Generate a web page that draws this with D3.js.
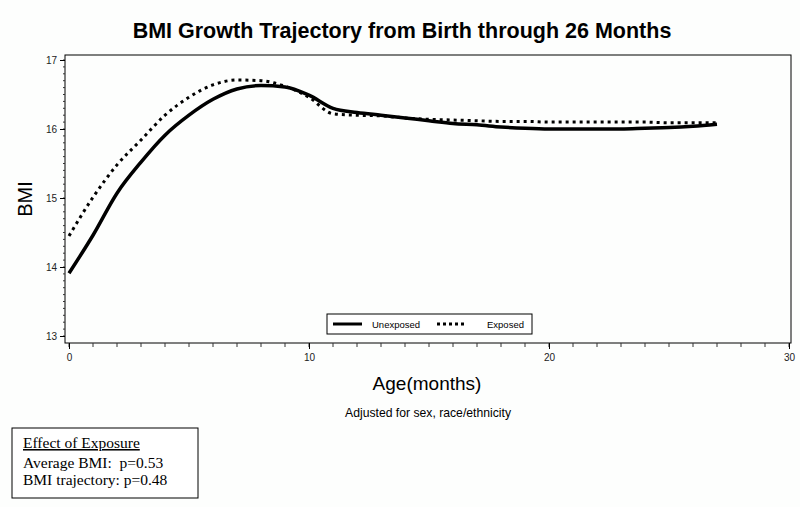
<!DOCTYPE html>
<html lang="en">
<head>
    <meta charset="UTF-8">
    <script src="https://cdn.jsdelivr.net/npm/d3@7"></script>
    <title>BMI Growth Trajectory</title>
    <style>
        body { margin: 0; background: #fdfefd; }
        svg { display: block; }
        .tick text { font-family: Arial, "Liberation Sans", sans-serif; font-size: 10px; fill: #222; }
    </style>
</head>
<body>
    <div id="chart"></div>
    <script>
        // Data
        const months = [0, 1, 2, 3, 4, 5, 6, 7, 8, 9, 10, 11, 12, 13, 14, 15, 16, 17, 18, 19, 20, 21, 22, 23, 24, 25, 26, 27];
        const unexposed = [13.91, 14.46, 15.07, 15.52, 15.91, 16.20, 16.43, 16.58, 16.63, 16.61, 16.49, 16.30, 16.24, 16.20,
            16.16, 16.12, 16.08, 16.06, 16.03, 16.01, 16.00, 16.00, 16.00, 16.00, 16.01, 16.02, 16.04, 16.07];
        const exposed = [14.45, 15.01, 15.48, 15.84, 16.20, 16.46, 16.64, 16.71, 16.70, 16.62, 16.46, 16.22, 16.20, 16.19,
            16.16, 16.14, 16.13, 16.12, 16.11, 16.11, 16.10, 16.10, 16.10, 16.10, 16.10, 16.09, 16.09, 16.09];
        const xTicks = [0, 10, 20, 30];
        const yTicks = [13, 14, 15, 16, 17];

        const width = 800, height = 507;
        const frame = { left: 65, right: 791, top: 55, bottom: 343 };
        const sans = "Arial, 'Liberation Sans', sans-serif";
        const serif = "'Times New Roman', 'Liberation Serif', serif";

        const svg = d3.select("#chart").append("svg")
            .attr("width", width)
            .attr("height", height);

        const x = d3.scaleLinear().domain([0, 30]).range([69, 789]);
        const y = d3.scaleLinear().domain([13, 17]).range([336, 60]);

        // frame
        svg.append("rect")
            .attr("x", frame.left).attr("y", frame.top)
            .attr("width", frame.right - frame.left)
            .attr("height", frame.bottom - frame.top)
            .attr("fill", "none").attr("stroke", "#000").attr("stroke-width", 1);

        // y axis: minor ticks every 0.1
        const yAxisG = svg.append("g").attr("transform", `translate(${frame.left},0)`);
        yAxisG.selectAll("line.minor")
            .data(d3.range(130, 171).map(d => d / 10))
            .enter().append("line")
            .attr("x1", -2).attr("x2", 0)
            .attr("y1", d => y(d)).attr("y2", d => y(d))
            .attr("stroke", "#333");
        yAxisG.call(d3.axisLeft(y).tickValues(yTicks).tickFormat(d3.format("d")).tickSize(5).tickPadding(3))
            .call(g => g.select(".domain").remove());

        // x axis: minor ticks every month
        const xAxisG = svg.append("g").attr("transform", `translate(0,${frame.bottom})`);
        xAxisG.selectAll("line.minor")
            .data(d3.range(0, 31))
            .enter().append("line")
            .attr("x1", d => x(d)).attr("x2", d => x(d))
            .attr("y1", 0).attr("y2", 4)
            .attr("stroke", "#333");
        xAxisG.call(d3.axisBottom(x).tickValues(xTicks).tickFormat(d3.format("d")).tickSize(6).tickPadding(5))
            .call(g => g.select(".domain").remove());

        // lines
        const line = d3.line()
            .x((d, i) => x(months[i]))
            .y(d => y(d))
            .curve(d3.curveMonotoneX);

        svg.append("path")
            .attr("d", line(unexposed))
            .attr("fill", "none").attr("stroke", "#000").attr("stroke-width", 3.5);

        svg.append("path")
            .attr("d", line(exposed))
            .attr("fill", "none").attr("stroke", "#000").attr("stroke-width", 3)
            .attr("stroke-dasharray", "3,4");

        // legend
        const legend = svg.append("g");
        legend.append("rect")
            .attr("x", 327).attr("y", 314).attr("width", 205).attr("height", 20)
            .attr("fill", "#fff").attr("stroke", "#000");
        legend.append("line")
            .attr("x1", 333).attr("x2", 362).attr("y1", 324).attr("y2", 324)
            .attr("stroke", "#000").attr("stroke-width", 3);
        legend.append("text").attr("x", 372).attr("y", 328)
            .attr("font-family", sans).attr("font-size", 9.5)
            .text("Unexposed");
        legend.append("line")
            .attr("x1", 437).attr("x2", 465).attr("y1", 324).attr("y2", 324)
            .attr("stroke", "#000").attr("stroke-width", 3)
            .attr("stroke-dasharray", "3,3");
        legend.append("text").attr("x", 487).attr("y", 328)
            .attr("font-family", sans).attr("font-size", 9.5)
            .text("Exposed");

        // titles
        svg.append("text")
            .attr("x", 402).attr("y", 38)
            .attr("text-anchor", "middle")
            .attr("font-family", sans)
            .attr("font-weight", "bold").attr("font-size", 21.5)
            .text("BMI Growth Trajectory from Birth through 26 Months");

        svg.append("text")
            .attr("transform", "translate(32,199) rotate(-90)")
            .attr("text-anchor", "middle")
            .attr("font-family", sans)
            .attr("font-size", 20)
            .text("BMI");

        svg.append("text")
            .attr("x", 427).attr("y", 390)
            .attr("text-anchor", "middle")
            .attr("font-family", sans)
            .attr("font-size", 19)
            .text("Age(months)");

        svg.append("text")
            .attr("x", 428).attr("y", 417)
            .attr("text-anchor", "middle")
            .attr("font-family", sans)
            .attr("font-size", 12.2)
            .text("Adjusted for sex, race/ethnicity");

        // effect of exposure box
        const box = svg.append("g");
        box.append("rect")
            .attr("x", 12).attr("y", 428).attr("width", 186).attr("height", 70)
            .attr("fill", "#fff").attr("stroke", "#000");
        box.append("text").attr("x", 23).attr("y", 448)
            .attr("font-family", serif).attr("font-size", 15.5)
            .attr("text-decoration", "underline")
            .text("Effect of Exposure");
        box.append("text").attr("x", 23).attr("y", 468)
            .attr("font-family", serif).attr("font-size", 15.5)
            .attr("xml:space", "preserve")
            .text("Average BMI:  p=0.53");
        box.append("text").attr("x", 23).attr("y", 485)
            .attr("font-family", serif).attr("font-size", 15.5)
            .text("BMI trajectory: p=0.48");
    </script>
</body>
</html>
